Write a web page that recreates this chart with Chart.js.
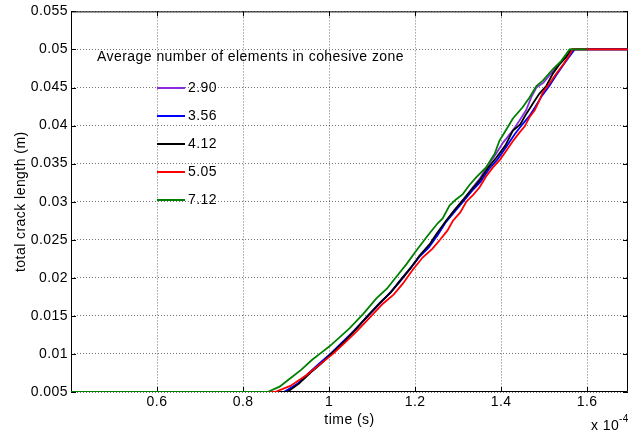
<!DOCTYPE html>
<html>
<head>
<meta charset="utf-8">
<script src="https://cdn.jsdelivr.net/npm/chart.js@4"></script>
<style>
  html, body { margin: 0; padding: 0; background: #fff; }
  canvas { display: block; }
</style>
</head>
<body>
<canvas id="crackChart" width="631" height="432"></canvas>
<script>
// time is in units of 1e-4 s (axis shows "x 10^-4"), crack length in m
const xTicks = [0.6, 0.8, 1.0, 1.2, 1.4, 1.6];
const yTicks = [0.005, 0.01, 0.015, 0.02, 0.025, 0.03, 0.035, 0.04, 0.045, 0.05, 0.055];
const seriesLabels = ['2.90', '3.56', '4.12', '5.05', '7.12'];

const t290 = [0.40, 0.898, 0.928, 0.955, 0.982, 1.004, 1.032, 1.06, 1.088, 1.118, 1.144, 1.165, 1.19, 1.21, 1.234, 1.253, 1.272, 1.291, 1.31, 1.33, 1.35, 1.368, 1.386, 1.405, 1.425, 1.442, 1.458, 1.47, 1.482, 1.498, 1.515, 1.532, 1.55, 1.568, 1.695];
const len290 = [0.005, 0.005, 0.0061, 0.0075, 0.0089, 0.0100, 0.0116, 0.0132, 0.0148, 0.0166, 0.0182, 0.0195, 0.0213, 0.0228, 0.0243, 0.0257, 0.0274, 0.0288, 0.0301, 0.0316, 0.0330, 0.0347, 0.0361, 0.0378, 0.0392, 0.0406, 0.0420, 0.0437, 0.0450, 0.0456, 0.0468, 0.0479, 0.0490, 0.050, 0.050];

const t356 = [0.40, 0.895, 0.925, 0.955, 0.98, 1.003, 1.03, 1.058, 1.088, 1.118, 1.142, 1.163, 1.188, 1.212, 1.232, 1.252, 1.27, 1.292, 1.313, 1.335, 1.352, 1.372, 1.392, 1.413, 1.432, 1.45, 1.465, 1.48, 1.496, 1.512, 1.528, 1.545, 1.558, 1.571, 1.695];
const len356 = [0.005, 0.005, 0.0060, 0.0076, 0.0089, 0.0100, 0.0115, 0.0130, 0.0149, 0.0167, 0.0180, 0.0195, 0.0212, 0.0229, 0.0240, 0.0256, 0.0272, 0.0287, 0.0301, 0.0316, 0.0326, 0.0343, 0.0356, 0.0373, 0.0389, 0.0402, 0.0412, 0.0425, 0.0440, 0.0452, 0.0466, 0.0480, 0.0490, 0.050, 0.050];

const t412 = [0.40, 0.903, 0.93, 0.96, 0.985, 1.005, 1.035, 1.06, 1.09, 1.12, 1.145, 1.165, 1.19, 1.21, 1.235, 1.25, 1.272, 1.29, 1.311, 1.33, 1.35, 1.37, 1.389, 1.41, 1.427, 1.445, 1.458, 1.475, 1.489, 1.505, 1.52, 1.535, 1.551, 1.563, 1.695];
const len412 = [0.005, 0.005, 0.0061, 0.0077, 0.0089, 0.0100, 0.0116, 0.0131, 0.0150, 0.0168, 0.0182, 0.0196, 0.0213, 0.0229, 0.0245, 0.0258, 0.0275, 0.0288, 0.0302, 0.0315, 0.0328, 0.0345, 0.0358, 0.0374, 0.0393, 0.0402, 0.0415, 0.0430, 0.0442, 0.0452, 0.0468, 0.0480, 0.0490, 0.050, 0.050];

const t505 = [0.40, 0.874, 0.91, 0.947, 0.98, 1.009, 1.035, 1.063, 1.095, 1.125, 1.15, 1.171, 1.195, 1.218, 1.24, 1.258, 1.275, 1.288, 1.305, 1.319, 1.335, 1.35, 1.365, 1.381, 1.397, 1.412, 1.428, 1.443, 1.455, 1.466, 1.478, 1.489, 1.497, 1.512, 1.528, 1.545, 1.556, 1.566, 1.695];
const len505 = [0.005, 0.005, 0.0058, 0.0072, 0.0087, 0.0100, 0.0114, 0.0129, 0.0148, 0.0166, 0.0178, 0.0192, 0.0211, 0.0227, 0.0238, 0.0250, 0.0262, 0.0275, 0.0286, 0.0300, 0.0309, 0.0319, 0.0333, 0.0345, 0.0355, 0.0367, 0.0380, 0.0391, 0.0399, 0.0411, 0.0420, 0.0433, 0.0444, 0.0455, 0.0468, 0.0481, 0.0490, 0.050, 0.050];

const t712 = [0.40, 0.857, 0.885, 0.91, 0.935, 0.96, 0.985, 1.001, 1.025, 1.048, 1.08, 1.11, 1.135, 1.156, 1.18, 1.203, 1.23, 1.253, 1.264, 1.28, 1.295, 1.311, 1.325, 1.342, 1.365, 1.385, 1.396, 1.41, 1.427, 1.45, 1.466, 1.482, 1.497, 1.52, 1.54, 1.559, 1.60];
const len712 = [0.005, 0.005, 0.0057, 0.0068, 0.0079, 0.0092, 0.0103, 0.0110, 0.0122, 0.0134, 0.0153, 0.0173, 0.0186, 0.0201, 0.0218, 0.0236, 0.0256, 0.0272, 0.0278, 0.0295, 0.0303, 0.0310, 0.0321, 0.0332, 0.0345, 0.0363, 0.0380, 0.0393, 0.0409, 0.0424, 0.0437, 0.0452, 0.0459, 0.0474, 0.0485, 0.050, 0.050];

const times = [t290, t356, t412, t505, t712];
const lengths = [len290, len356, len412, len505, len712];
const colors = ['#8a2be2', '#0000ff', '#000000', '#ff0000', '#008000'];

const FONT = '"Liberation Sans", Arial, sans-serif';
const SPACING = '0.45px';

Chart.defaults.font.family = FONT;
Chart.defaults.font.size = 14;
Chart.defaults.color = '#000';

// MATLAB-ish box, inward ticks, legend inside the axes, exponent label
const matlabLook = {
  id: 'matlabLook',
  beforeUpdate(chart) { chart.ctx.letterSpacing = SPACING; },
  beforeDraw(chart) { chart.ctx.letterSpacing = SPACING; },
  beforeDatasetsDraw(chart) {
    const { ctx, chartArea: a, scales: { x, y } } = chart;
    ctx.save();
    ctx.strokeStyle = '#000';
    ctx.lineWidth = 1;
    ctx.beginPath();
    ctx.rect(a.left + 0.5, a.top + 0.5, a.right - a.left - 1, a.bottom - a.top - 1);
    x.ticks.forEach(t => {
      const px = Math.round(x.getPixelForValue(t.value)) + 0.5;
      ctx.moveTo(px, a.bottom); ctx.lineTo(px, a.bottom - 5);
      ctx.moveTo(px, a.top); ctx.lineTo(px, a.top + 5);
    });
    y.ticks.forEach(t => {
      const py = Math.round(y.getPixelForValue(t.value)) + 0.5;
      ctx.moveTo(a.left, py); ctx.lineTo(a.left + 5, py);
      ctx.moveTo(a.right, py); ctx.lineTo(a.right - 5, py);
    });
    ctx.stroke();
    ctx.restore();
  },
  afterDraw(chart) {
    const { ctx, chartArea: a } = chart;
    ctx.save();
    ctx.letterSpacing = SPACING;
    ctx.fillStyle = '#000';
    ctx.textBaseline = 'middle';
    ctx.textAlign = 'left';
    ctx.font = '14px ' + FONT;
    ctx.fillText('Average number of elements in cohesive zone', a.left + 26, 57);
    chart.data.datasets.forEach((ds, i) => {
      const yy = 88 + i * 28;
      ctx.strokeStyle = ds.borderColor;
      ctx.lineWidth = 2;
      ctx.beginPath();
      ctx.moveTo(a.left + 86, yy);
      ctx.lineTo(a.left + 114, yy);
      ctx.stroke();
      ctx.fillText(ds.label, a.left + 117, yy);
    });
    ctx.fillText('x 10', 591, 426);
    ctx.font = '10px ' + FONT;
    ctx.fillText('-4', 619, 419);
    ctx.restore();
  }
};

new Chart(document.getElementById('crackChart'), {
  type: 'line',
  data: {
    datasets: seriesLabels.map((label, i) => ({
      label,
      data: times[i].map((t, k) => ({ x: t, y: lengths[i][k] })),
      borderColor: colors[i],
      borderWidth: 1.8,
      pointRadius: 0,
      tension: 0,
      fill: false,
      order: seriesLabels.length - 1 - i
    }))
  },
  options: {
    responsive: false,
    devicePixelRatio: 1,
    animation: false,
    layout: { padding: { top: 10, right: 3, bottom: 0, left: 0 } },
    plugins: { legend: { display: false }, tooltip: { enabled: false } },
    scales: {
      x: {
        type: 'linear',
        min: 0.4,
        max: 1.695,
        afterBuildTicks: s => { s.ticks = xTicks.map(v => ({ value: v })); },
        afterFit: s => { s.height = 40; },
        grid: { color: 'rgba(0,0,0,0.55)', lineWidth: 1, drawTicks: false },
        border: { display: false, dash: [1, 2] },
        ticks: { padding: 2, autoSkip: false, maxRotation: 0, callback: v => String(+v.toFixed(2)) },
        title: { display: true, text: 'time (s)', padding: { top: 0, bottom: 3 } }
      },
      y: {
        type: 'linear',
        min: 0.005,
        max: 0.055,
        afterBuildTicks: s => { s.ticks = yTicks.map(v => ({ value: v })); },
        afterFit: s => { s.width = 71; },
        grid: { color: 'rgba(0,0,0,0.55)', lineWidth: 1, drawTicks: false },
        border: { display: false, dash: [1, 2] },
        ticks: { padding: 3, autoSkip: false, callback: v => String(+v.toFixed(4)) },
        title: { display: true, text: 'total crack length (m)', padding: { top: 12.6, bottom: 0 } }
      }
    }
  },
  plugins: [matlabLook]
});
</script>
</body>
</html>
